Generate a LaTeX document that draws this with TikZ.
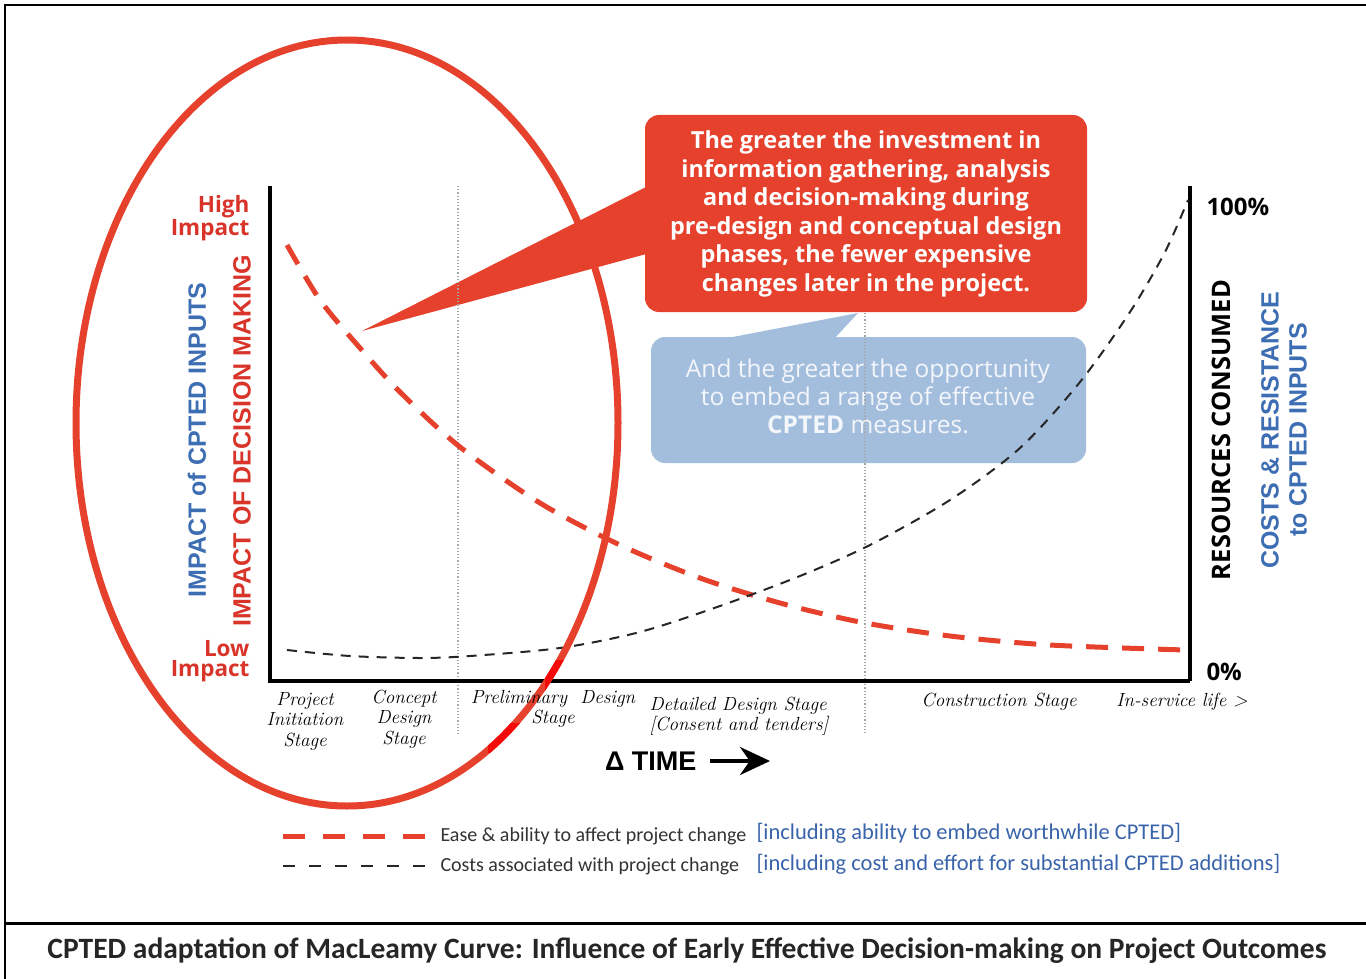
\documentclass[tikz,border=0pt]{standalone}
\usepackage{fontspec}
\usepackage{tikz}
\usetikzlibrary{arrows.meta}
\newfontfamily\opensans{Open Sans}
\newfontfamily\arialfont{Liberation Sans}
\newfontfamily\calibrifont{Carlito}
\definecolor{cptedred}{HTML}{E5412C}
\definecolor{labelred}{HTML}{D9342A}
\definecolor{brightred}{HTML}{F50A0A}
\definecolor{boxblue}{HTML}{A3BDDD}
\definecolor{boxtext}{HTML}{F3F6FB}
\definecolor{textblue}{HTML}{3D6DB3}
\definecolor{legendblue}{HTML}{3A64AA}
\tikzset{
  stage/.style={align=center, font=\itshape\fontsize{19}{20.5}\selectfont},
  impact/.style={anchor=east, align=right, text=labelred, font=\opensans\bfseries\fontsize{22.5}{20}\selectfont},
  sidetitle/.style={rotate=90, font=\arialfont\bfseries\fontsize{25}{28}\selectfont},
  legendtext/.style={anchor=west, text=black!80, font=\calibrifont\fontsize{20}{20}\selectfont},
  legendnote/.style={anchor=west, text=legendblue, font=\calibrifont\fontsize{22.5}{22}\selectfont},
  percent/.style={anchor=west, font=\opensans\bfseries\fontsize{24}{24}\selectfont}
}
\begin{document}
\begin{tikzpicture}[x=1pt,y=-1pt]
  \useasboundingbox (0,0) rectangle (1366,979);
  % frame
  \draw[line width=2.5pt] (5,979) -- (5,5) -- (1366,5);
  \draw[line width=3pt] (5,923) -- (1366,923);

  % call-outs
  \fill[cptedred, rounded corners=14pt] (645,115) rectangle (1087,312);
  \fill[cptedred] (362,331) -- (650,185) -- (650,253) -- cycle;
  \fill[boxblue, rounded corners=14pt] (651,337) rectangle (1086,463);
  \fill[boxblue] (717,340) -- (858,313) -- (833,340) -- cycle;
  \node[align=center, text=white, font=\opensans\bfseries\fontsize{23.5}{28.5}\selectfont] (greater) at (866,214)
    {The greater the investment in\\information gathering, analysis\\and decision-making during\\pre-design and conceptual design\\phases, the fewer expensive\\changes later in the project.};
  \node[align=center, text=boxtext, font=\opensans\fontsize{24.5}{28}\selectfont] (opportunity) at (868,396)
    {And the greater the opportunity\\to embed a range of effective\\\textbf{CPTED} measures.};

  % stage dividers
  \draw[gray!70, dotted, line width=1.2pt] (458,186) -- (458,735);
  \draw[gray!70, dotted, line width=1.2pt] (865,313) -- (865,735);

  % axes
  \draw[line width=3.5pt] (270,186) -- (270,681) -- (1190,681);
  \draw[line width=4pt] (1190,186) -- (1190,681);

  % curves
  \draw[cptedred, line width=5pt, dash pattern=on 22pt off 14pt] plot[smooth] coordinates
    {(287,245) (320,300) (360,348) (400,392) (460,447) (540,503) (620,545) (700,578) (780,603) (860,622) (950,636) (1050,645) (1185,650)};
  \draw[black!85, line width=2pt, dash pattern=on 10pt off 8pt] plot[smooth] coordinates
    {(287,650) (350,656) (420,658) (470,656) (560,648) (640,632) (720,606) (800,576) (870,545) (950,500) (1020,448) (1080,382) (1130,312) (1165,252) (1188,200)};

  % early decisions ellipse
  \draw[cptedred, line width=7pt] (347,423) ellipse [x radius=271, y radius=383];
  \begin{scope}
    \clip (545,660) rectangle (592,693);
    \draw[brightred, line width=7pt] (347,423) ellipse [x radius=271, y radius=383];
  \end{scope}
  \begin{scope}
    \clip (488,723) rectangle (532,752);
    \draw[brightred, line width=7pt] (347,423) ellipse [x radius=271, y radius=383];
  \end{scope}

  % axis labels
  \node[impact] (high) at (253,218) {High\\Impact};
  \node[impact] (low) at (253,661) {Low\\Impact};
  \node[sidetitle, text=textblue] (cptedinputs) at (197,440) {IMPACT of CPTED INPUTS};
  \node[sidetitle, text=labelred] (decision) at (242,441) {IMPACT OF DECISION MAKING};
  \node[rotate=90, font=\opensans\bfseries\fontsize{25.5}{25}\selectfont] (resources) at (1221,430) {RESOURCES CONSUMED};
  \node[sidetitle, align=center, text=textblue] (costs) at (1284,430) {COSTS \& RESISTANCE\\to CPTED INPUTS};
  \node[percent] (full) at (1203,207) {100\%};
  \node[percent] (zero) at (1203,672) {0\%};

  % stages
  \node[stage] (initiation) at (305,721) {Project\\Initiation\\Stage};
  \node[stage] (concept) at (404,719) {Concept\\Design\\Stage};
  \node[stage] (preliminary) at (553,709) {Preliminary\ \ Design\\Stage};
  \node[stage, align=left, anchor=west] (detailed) at (646,716) {Detailed Design Stage\\{[}Consent and tenders{]}};
  \node[stage] (construction) at (999,702) {Construction Stage};
  \node[stage] (inservice) at (1182,702) {In-service life >};

  % time arrow
  \node[anchor=east, font=\arialfont\bfseries\fontsize{27}{27}\selectfont] (time) at (700,761) {Δ TIME};
  \coordinate (timeend) at (770,761);
  \draw[line width=3.5pt, -{Stealth[length=30pt, width=28pt]}] ([xshift=10pt]time.east) -- (timeend);

  % legend
  \coordinate (easeA) at (283,836);
  \coordinate (easeB) at (425,836);
  \coordinate (costA) at (283,866);
  \coordinate (costB) at (425,866);
  \draw[cptedred, line width=5pt, dash pattern=on 22pt off 18pt] (easeA) -- (easeB);
  \draw[black!85, line width=2pt, dash pattern=on 12pt off 14pt] (costA) -- (costB);
  \node[legendtext] (ease) at (437,836) {Ease \& ability to affect project change};
  \node[legendnote] (easenote) at (753,833) {[including ability to embed worthwhile CPTED]};
  \node[legendtext] (costchange) at (437,866) {Costs associated with project change};
  \node[legendnote] (costnote) at (753,864) {[including cost and effort for substantial CPTED additions]};

  % caption
  \node[text=black!85, font=\calibrifont\bfseries\fontsize{29.5}{29.5}\selectfont] (caption) at (687,951)
    {CPTED adaptation of MacLeamy Curve: Influence of Early Effective Decision-making on Project Outcomes};
\end{tikzpicture}
\end{document}
